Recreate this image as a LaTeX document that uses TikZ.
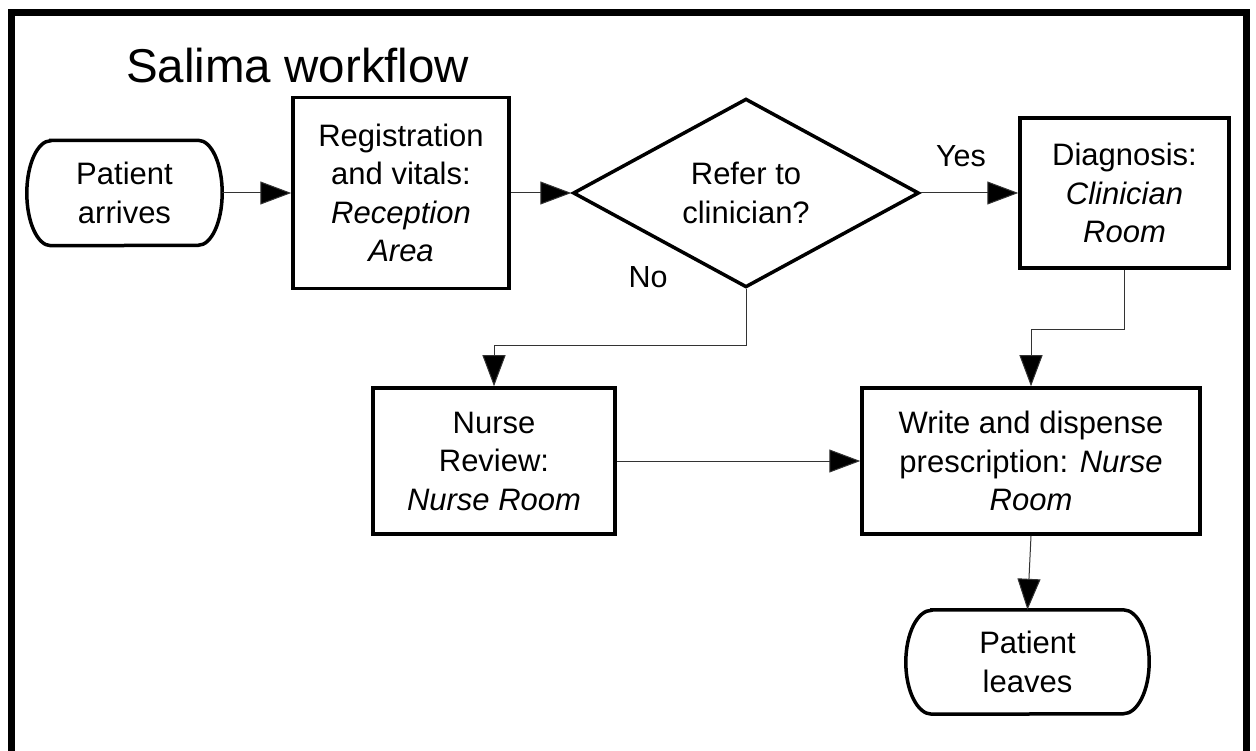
\documentclass[tikz,border=0pt]{standalone}
\usepackage{fontspec}
\setmainfont{Liberation Sans}
\usetikzlibrary{arrows.meta,shapes.geometric}
\begin{document}
\begin{tikzpicture}[x=1pt,y=-1pt,
  txt/.style={align=center,font=\fontsize{31}{38.5}\selectfont,inner sep=0pt},
  procbox/.style={txt,draw,line width=3.5pt,shape=rectangle},
  decbox/.style={txt,draw,line width=3.5pt,shape=diamond},
  termbox/.style={txt,shape=rectangle},
  termline/.style={line width=3.5pt},
  conn/.style={line width=1pt,draw=black!80,-{Triangle[length=31pt,width=23pt,fill=black]}},
  lbl/.style={font=\fontsize{30.5}{36}\selectfont,inner sep=0pt}
]
\useasboundingbox (0,0) rectangle (1256,751);
\fill[white] (0,0) rectangle (1256,751);
% frame
\draw[line width=7pt] (11,800) -- (11,13) -- (1246,13) -- (1246,800);
% title
\node[anchor=base west,inner sep=0pt,font=\fontsize{47.5}{54}\selectfont] (title) at (126,83) {Salima workflow};
% nodes
\node[termbox,minimum width=195pt,minimum height=105pt] (arr) at (124.5,193) {Patient\\arrives};
\draw[termline] ([xshift=24pt]arr.north west) -- ([xshift=-24pt]arr.north east)
  arc[start angle=90,end angle=-90,x radius=24pt,y radius=52.5pt]
  -- ([xshift=24pt]arr.south west)
  arc[start angle=270,end angle=90,x radius=24pt,y radius=52.5pt] -- cycle;
\node[procbox,minimum width=216pt,minimum height=191pt] (reg) at (401,193) {Registration\\and vitals:\\\textit{Reception}\\\textit{Area}};
\node[decbox,minimum width=346pt,minimum height=169pt] (dec) at (746,193) {Refer to\\clinician?};
\node[procbox,minimum width=209pt,minimum height=150pt] (diag) at (1124.5,193) {Diagnosis:\\\textit{Clinician}\\\textit{Room}};
\node[procbox,minimum width=242pt,minimum height=146pt] (nurse) at (494,461) {Nurse\\Review:\\\textit{Nurse Room}};
\node[procbox,minimum width=338pt,minimum height=146pt] (presc) at (1031,461) {Write and dispense\\prescription: \textit{Nurse}\\\textit{Room}};
\node[termbox,minimum width=243pt,minimum height=104pt] (leave) at (1027.5,662) {Patient\\leaves};
\draw[termline] ([xshift=26pt]leave.north west) -- ([xshift=-26pt]leave.north east)
  arc[start angle=90,end angle=-90,x radius=26pt,y radius=52pt]
  -- ([xshift=26pt]leave.south west)
  arc[start angle=270,end angle=90,x radius=26pt,y radius=52pt] -- cycle;
% labels
\node[lbl] (yes) at (961,156) {Yes};
\node[lbl] (no) at (648,277) {No};
% connectors
\draw[conn] (arr.east) -- (reg.west);
\draw[conn] (reg.east) -- (dec.west);
\draw[conn] (dec.east) -- (diag.west);
\draw[conn] (dec.south) -- ++(0,56) -| (nurse.north);
\draw[conn] (diag.south) -- ++(0,60) -| (presc.north);
\draw[conn] (nurse.east) -- (presc.west);
\draw[conn] (presc.south) -- (leave.north);
\end{tikzpicture}
\end{document}
